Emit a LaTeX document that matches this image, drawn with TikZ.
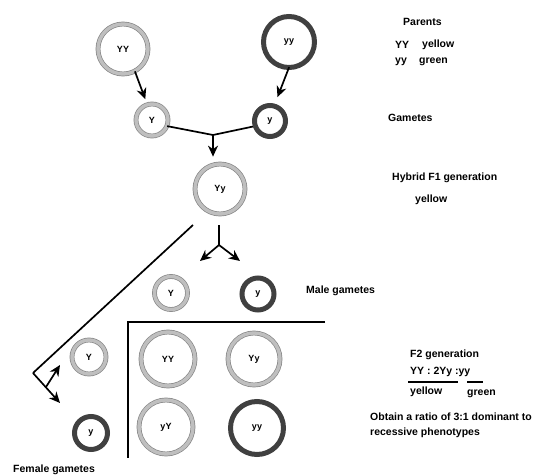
\documentclass[tikz,border=0pt]{standalone}
\usepackage{fontspec}
\setmainfont{Liberation Sans}
\usetikzlibrary{arrows.meta}
\begin{document}
\begin{tikzpicture}[x=1pt,y=-1pt,
  allele/.style={circle, inner sep=0pt, font=\bfseries\fontsize{9}{10}\selectfont},
  lightring/.style={allele, draw=gray!95, double=gray!50, line width=0.7pt, double distance=3.4pt},
  darkring/.style={allele, draw=black!75, line width=5pt},
  lbl/.style={anchor=west, inner sep=0pt, font=\bfseries\fontsize{10.5}{12}\selectfont},
  link/.style={line width=1.7pt},
  arr/.style={line width=1.7pt, -{Stealth[length=11pt,width=10pt,inset=3.5pt]}},
  grid/.style={line width=1.3pt},
]
\useasboundingbox (0,0) rectangle (536,476);

% parents
\node[lightring, minimum size=50pt] (pYY) at (123,49) {YY};
\node[darkring,  minimum size=51pt] (pyy) at (289,42) {yy};
% gametes
\node[lightring, minimum size=32pt] (gY) at (152,120) {Y};
\node[darkring,  minimum size=31pt] (gy) at (270,121) {y};
% hybrid F1
\node[lightring, minimum size=50pt] (F1) at (220,189) {Yy};
% male gametes
\node[lightring, minimum size=33pt] (mY) at (171,293) {Y};
\node[darkring,  minimum size=32pt] (my) at (258,294) {y};
% female gametes
\node[lightring, minimum size=34pt] (fY) at (89,357) {Y};
\node[darkring,  minimum size=33pt] (fy) at (91,433) {y};
% F2 square
\node[lightring, minimum size=54pt] (sYY) at (168,359) {YY};
\node[lightring, minimum size=52pt] (sYy) at (254,359) {Yy};
\node[lightring, minimum size=54pt] (syY) at (166,427) {yY};
\node[darkring,  minimum size=53pt] (syy) at (257,428) {yy};

% parents to gametes
\draw[arr, shorten >=5.5pt] (pYY.-62) -- (gY.107);
\draw[arr, shorten <=-3pt, shorten >=7pt] (pyy.-92) -- (gy.74);
% fertilisation
\coordinate (j) at (213,135);
\draw[link] (gY.-22) -- (j) -- (gy.198);
\draw[arr, shorten >=7pt] (j) -- (j |- F1.north);

% F1 splits into male gametes
\coordinate (s1) at (219,245);
\coordinate (m1) at (200,261);
\coordinate (m2) at (240,261);
\draw[link, shorten <=11pt] (s1 |- F1.south) -- (s1);
\draw[arr] (s1) -- (m1);
\draw[arr] (s1) -- (m2);

% F1 splits into female gametes
\coordinate (d0) at (193,225);
\coordinate (v) at (33,373);
\coordinate (s2) at (46,387);
\coordinate (f1) at (60,365);
\coordinate (f2) at (60,403);
\draw[link] (d0) -- (v);
\draw[arr] (v) -- (f2);
\draw[arr] (s2) -- (f1);

% F2 square frame
\coordinate (gc) at (128,322);
\coordinate (gr) at (325,322);
\coordinate (gb) at (128,458);
\draw[grid] (gr) -- (gc) -- (gb);

% labels
\node[lbl] (tpar) at (403,22) {Parents};
\node[lbl] (tYY) at (395,45) {YY};
\node[lbl] (tyel) at (422,45) {yellow};
\node[lbl] (tyy) at (395,62) {yy};
\node[lbl] (tgrn) at (419,62) {green};
\node[lbl] (tgam) at (388,118) {Gametes};
\node[lbl] (thyb) at (392,178) {Hybrid F1 generation};
\node[lbl] (thyel) at (415,200) {yellow};
\node[lbl] (tmale) at (306,291) {Male gametes};
\node[lbl] (tfem) at (13,470) {Female gametes};
\node[lbl] (tf2) at (410,355) {F2 generation};
\node[lbl] (tratio) at (410,372) {YY : 2Yy :yy};
\coordinate (u1a) at (408,382);
\coordinate (u1b) at (458,382);
\coordinate (u2a) at (467,382);
\coordinate (u2b) at (483,382);
\draw[line width=1.1pt] (u1a) -- (u1b);
\draw[line width=1.1pt] (u2a) -- (u2b);
\node[lbl] (tf2yel) at (410,392) {yellow};
\node[lbl] (tf2grn) at (467,394) {green};
\node[lbl] (tobt) at (370,417) {Obtain a ratio of 3:1 dominant to};
\node[lbl] (trec) at (370,433) {recessive phenotypes};
\end{tikzpicture}
\end{document}
